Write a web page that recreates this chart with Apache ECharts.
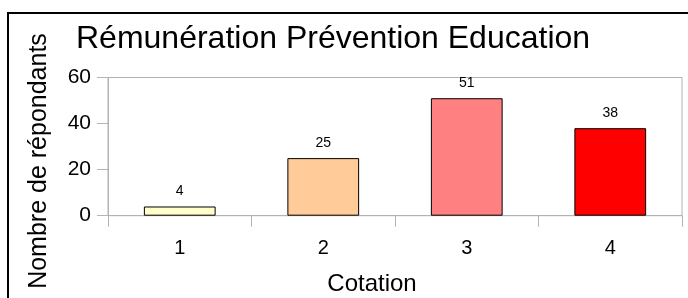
<!DOCTYPE html>
<html>
<head>
<meta charset="utf-8">
<script src="https://cdn.jsdelivr.net/npm/echarts@6/dist/echarts.min.js"></script>
<style>
  html, body { margin: 0; padding: 0; background: #fff; }
  #main { width: 688px; height: 298px; }
</style>
</head>
<body>
<div id="main"></div>
<script>
(function() {
  const categories = ['1', '2', '3', '4'];
  const values = [4, 25, 51, 38];
  const barColors = ['#ffffcc', '#ffcc99', '#ff8080', '#ff0000'];
  const yTicks = { min: 0, max: 60, interval: 20 };

  const font = 'Liberation Sans, Arial, sans-serif';
  const axisGray = '#b3b3b3';

  const myChart = echarts.init(document.getElementById('main'));

  const option = {
    animation: false,
    backgroundColor: '#fff',
    title: {
      text: 'Rémunération Prévention Education',
      left: 76,
      top: 23,
      padding: 0,
      textStyle: {
        fontFamily: font,
        fontSize: 32,
        fontWeight: 'normal',
        color: '#000'
      }
    },
    grid: {
      left: 108,
      right: 6,
      top: 77.5,
      bottom: 82.3,
      show: true,
      borderColor: axisGray,
      borderWidth: 1
    },
    xAxis: {
      type: 'category',
      data: categories,
      axisLine: { lineStyle: { color: axisGray, width: 1 } },
      axisTick: { show: true, length: 11, lineStyle: { color: axisGray } },
      axisLabel: {
        margin: 23,
        fontFamily: font,
        fontSize: 20,
        color: '#000'
      }
    },
    yAxis: {
      type: 'value',
      min: yTicks.min,
      max: yTicks.max,
      interval: yTicks.interval,
      splitLine: { show: false },
      axisLine: { show: true, lineStyle: { color: axisGray, width: 1 } },
      axisTick: { show: true, length: 11, lineStyle: { color: axisGray } },
      axisLabel: {
        margin: 17,
        fontFamily: font,
        fontSize: 21,
        color: '#000'
      }
    },
    series: [{
      name: 'Nombre de répondants',
      type: 'bar',
      barWidth: '50%',
      data: values.map(function(v, i) {
        return {
          value: v,
          itemStyle: { color: barColors[i] }
        };
      }),
      itemStyle: {
        borderColor: '#000',
        borderWidth: 1
      },
      label: {
        show: true,
        position: 'top',
        distance: 8,
        fontFamily: font,
        fontSize: 14,
        color: '#000'
      }
    }],
    graphic: [{
      type: 'rect',
      shape: { x: 8, y: 13, width: 720, height: 320 },
      style: { fill: 'none', stroke: '#000', lineWidth: 2 },
      silent: true
    }, {
      type: 'text',
      x: 39,
      y: 161,
      rotation: Math.PI / 2,
      style: {
        text: 'Nombre de répondants',
        fontFamily: font,
        fontSize: 25,
        fill: '#000',
        align: 'center',
        verticalAlign: 'middle'
      }
    }, {
      type: 'text',
      x: 372,
      y: 284,
      style: {
        text: 'Cotation',
        fontFamily: font,
        fontSize: 24,
        fill: '#000',
        align: 'center',
        verticalAlign: 'middle'
      }
    }]
  };

  myChart.setOption(option);
})();
</script>
</body>
</html>
